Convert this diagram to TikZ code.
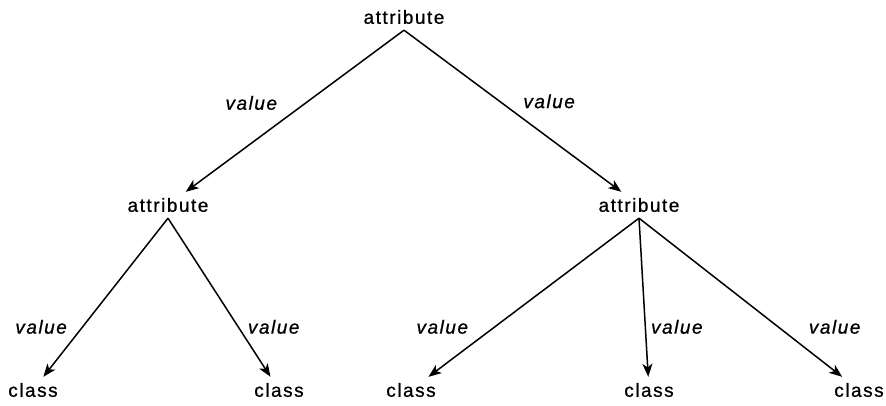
\documentclass[tikz,border=0pt]{standalone}
\usepackage{fontspec}
\setmainfont[LetterSpace=8, FakeBold=0.8]{Liberation Sans}
\usetikzlibrary{arrows.meta, positioning}
\tikzset{
  nd/.style={font=\fontsize{19}{22}\selectfont, inner sep=6pt},
  val/.style={font=\fontsize{19}{22}\selectfont\itshape, inner sep=0pt},
  arr/.style={line width=1.5pt, -{Stealth[length=13pt,width=10pt,inset=3.5pt]}}
}

\begin{document}
\begin{tikzpicture}[x=1pt,y=-1pt]
  \useasboundingbox (0,0) rectangle (886,405);
  \node[nd] (t) at (404,17) {attribute};
  \node[nd] (l) at (168,205) {attribute};
  \node[nd] (r) at (639,205) {attribute};
  \foreach \n/\x in {ll/33, lr/279, rl/411, rm/649, rr/859}{
     \node[nd] (\n) at (\x,390) {class};}
  % top level
  \draw[arr] (t.south) -- (l) node[val,pos=.45,anchor=east,xshift=-28pt] {value};
  \draw[arr] (t.south) -- (r) node[val,pos=.44,anchor=west,xshift=23pt] {value};
  % leaves
  \foreach \a/\b/\s/\g in {l/ll/east/-15, l/lr/west/9, r/rl/east/-26, r/rm/west/5, r/rr/west/30}{
     \draw[arr] (\a.south) -- (\b) node[val,pos=.685,anchor=\s,xshift=\g pt] {value};}
\end{tikzpicture}
\end{document}
